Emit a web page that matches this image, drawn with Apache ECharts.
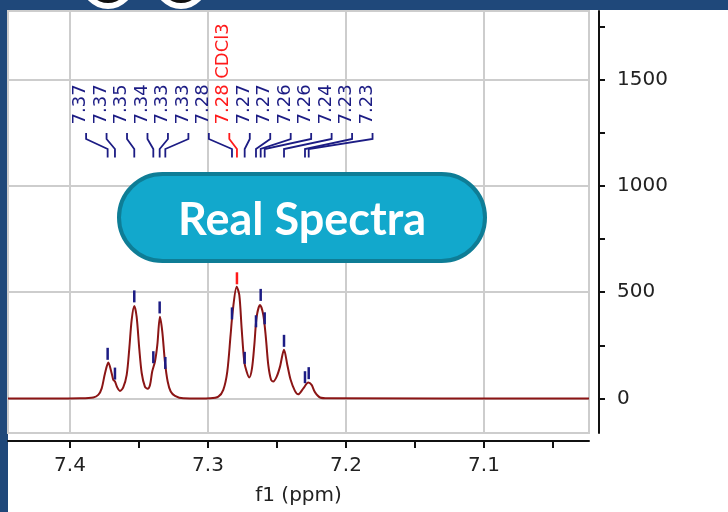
<!DOCTYPE html>
<html><head><meta charset="utf-8">
<script src="https://cdn.jsdelivr.net/npm/echarts@6/dist/echarts.min.js"></script>
<style>html,body{margin:0;padding:0;background:#1f487a}#c{width:728px;height:512px}</style>
</head><body><div id="c"></div>
<script>
// ---- data ----
const X_MIN = 7.0239, X_MAX = 7.4449;
const Y_MIN = -162, Y_MAX = 1822;
const xTickValues = [7.05, 7.1, 7.15, 7.2, 7.25, 7.3, 7.35, 7.4];
const xLabelValues = [7.1, 7.2, 7.3, 7.4];
const xGridValues = [7.1, 7.2, 7.3, 7.4];
const yTickValues = [0, 250, 500, 750, 1000, 1250, 1500, 1750];
const yLabelValues = [0, 500, 1000, 1500];
const yGridValues = [0, 500, 1000, 1500];

const specPpm = [7.4449,7.4145,7.3928,7.3831,7.3795,7.3770,7.3746,7.3722,7.3698,7.3686,7.3674,7.3657,7.3638,7.3614,7.3589,7.3570,7.3553,7.3534,7.3517,7.3498,7.3480,7.3457,7.3437,7.3420,7.3404,7.3384,7.3367,7.3348,7.3331,7.3312,7.3292,7.3270,7.3239,7.3179,7.3058,7.2986,7.2925,7.2889,7.2860,7.2836,7.2821,7.2792,7.2773,7.2756,7.2737,7.2720,7.2701,7.2681,7.2664,7.2647,7.2623,7.2599,7.2580,7.2563,7.2543,7.2527,7.2502,7.2478,7.2449,7.2425,7.2401,7.2370,7.2346,7.2309,7.2273,7.2249,7.2225,7.2188,7.2128,7.0239];
const specInt = [0,0,1,5,17,48,119,169,119,88,80,52,36,52,111,236,369,435,385,236,119,56,46,64,127,174,252,385,315,174,80,33,13,1,0,1,9,41,127,299,408,526,487,330,174,127,99,142,252,385,440,393,283,158,88,80,103,150,229,158,88,36,20,48,75,64,30,5,1,0];

const peakPpm = [7.3727,7.3674,7.3534,7.3396,7.3350,7.3309,7.2826,7.2790,7.2734,7.2652,7.2618,7.2589,7.2449,7.2297,7.2270];
const peakInt = [168,75,438,152,386,125,358,523,149,321,445,335,229,58,77];
const peakLabels = ['7.37','7.37','7.35','7.34','7.33','7.33','7.28','7.28 CDCl3','7.27','7.27','7.26','7.26','7.24','7.23','7.23'];
const solventIndex = 7;

// ---- style / layout ----
const NAVY = '#1c1c84', RED = '#ff1a1a', CURVE = '#8b1515';
const FONT = '"DejaVu Sans", sans-serif';
const LABEL_X0 = 86.1, LABEL_DX = 20.46;
const LINE_Y = [133, 139, 149, 157.5];
const TEXT_Y = 124.5;

const chart = echarts.init(document.getElementById('c'), null, {renderer: 'canvas'});
chart.setOption({
  animation: false,
  backgroundColor: '#1f487a',
  grid: {left: 8, top: 11, right: 139, bottom: 79, show: true, borderColor: '#cdcdcd', borderWidth: 2, containLabel: false, outerBoundsMode: 'none'},
  xAxis: [{
    type: 'value', gridIndex: 0, min: X_MIN, max: X_MAX, inverse: true, position: 'bottom',
    axisLine: {show: false, onZero: false}, axisTick: {show: false, customValues: xGridValues},
    axisLabel: {show: false}, splitLine: {show: true, lineStyle: {color: '#cdcdcd', width: 2}}
  }, {
    type: 'value', gridIndex: 0, min: X_MIN, max: X_MAX, inverse: true, position: 'bottom', offset: 8,
    axisLine: {show: true, onZero: false, lineStyle: {color: '#111', width: 2}},
    axisTick: {show: true, customValues: xTickValues, length: 7, lineStyle: {color: '#111', width: 2}},
    axisLabel: {show: true, customValues: xLabelValues, margin: 15, color: '#222', fontSize: 20, fontFamily: FONT,
      formatter: v => Number(v).toFixed(1)},
    splitLine: {show: false},
    name: 'f1 (ppm)', nameLocation: 'middle', nameGap: 45,
    nameTextStyle: {color: '#222', fontSize: 20, fontFamily: FONT}
  }],
  yAxis: [{
    type: 'value', gridIndex: 0, min: Y_MIN, max: Y_MAX, position: 'left',
    axisLine: {show: false, onZero: false}, axisTick: {show: false, customValues: yGridValues},
    axisLabel: {show: false}, splitLine: {show: true, lineStyle: {color: '#cdcdcd', width: 2}}
  }, {
    type: 'value', gridIndex: 0, min: Y_MIN, max: Y_MAX, position: 'right', offset: 10,
    axisLine: {show: true, onZero: false, lineStyle: {color: '#111', width: 2}},
    axisTick: {show: true, customValues: yTickValues, length: 6, lineStyle: {color: '#111', width: 2}},
    axisLabel: {show: true, customValues: yLabelValues, margin: 18, color: '#222', fontSize: 20, fontFamily: FONT,
      formatter: v => String(Math.round(v))},
    splitLine: {show: false}
  }],
  series: [{
    type: 'line', xAxisIndex: 0, yAxisIndex: 0, silent: true,
    data: specPpm.map((p, i) => [p, specInt[i]]),
    showSymbol: false, smooth: 0.3,
    lineStyle: {color: CURVE, width: 2}, z: 3
  }, {
    type: 'scatter', xAxisIndex: 0, yAxisIndex: 0, silent: true,
    data: peakPpm.map((p, i) => [p, peakInt[i]]),
    symbol: 'rect', symbolSize: [2.5, 12], symbolOffset: [0, -9],
    itemStyle: {opacity: 1, color: p => p.dataIndex === solventIndex ? RED : NAVY}, z: 4
  }, {
    type: 'custom', xAxisIndex: 0, yAxisIndex: 0, silent: true, clip: false, z: 5,
    data: peakPpm.map((p, i) => [p, i]),
    renderItem: (params, api) => {
      const i = params.dataIndex;
      const px = api.coord([api.value(0), 0])[0];
      const cx = LABEL_X0 + i * LABEL_DX;
      const color = i === solventIndex ? RED : NAVY;
      return {type: 'group', children: [
        {type: 'polyline', shape: {points: [[cx, LINE_Y[0]], [cx, LINE_Y[1]], [px, LINE_Y[2]], [px, LINE_Y[3]]]},
          style: {stroke: color, lineWidth: 1.8, fill: null}},
        {type: 'text', x: cx - 5.5, y: TEXT_Y, rotation: Math.PI / 2,
          style: {text: peakLabels[i], fill: color, font: '18px ' + FONT, align: 'left', verticalAlign: 'middle'}}
      ]};
    }
  }],
  graphic: [
    {type: 'rect', silent: true, z: -10, shape: {x: 8, y: 10, width: 720, height: 502}, style: {fill: '#ffffff'}},
    {type: 'circle', silent: true, z: 50, shape: {cx: 108, cy: -18, r: 27}, style: {fill: '#ffffff'}},
    {type: 'circle', silent: true, z: 51, shape: {cx: 108, cy: -18, r: 21}, style: {fill: '#111111'}},
    {type: 'circle', silent: true, z: 50, shape: {cx: 181, cy: -18, r: 27}, style: {fill: '#ffffff'}},
    {type: 'circle', silent: true, z: 51, shape: {cx: 181, cy: -18, r: 21}, style: {fill: '#111111'}},
    {type: 'rect', silent: true, z: 100, shape: {x: 119, y: 174, width: 366, height: 87, r: 43.5},
      style: {fill: '#12a8cc', stroke: '#0e7d96', lineWidth: 4}},
    {type: 'text', silent: true, z: 101, x: 302, y: 220,
      style: {text: 'Real Spectra', fill: '#ffffff', font: 'bold 45px Lato, sans-serif', align: 'center', verticalAlign: 'middle'}}
  ]
});
</script></body></html>
